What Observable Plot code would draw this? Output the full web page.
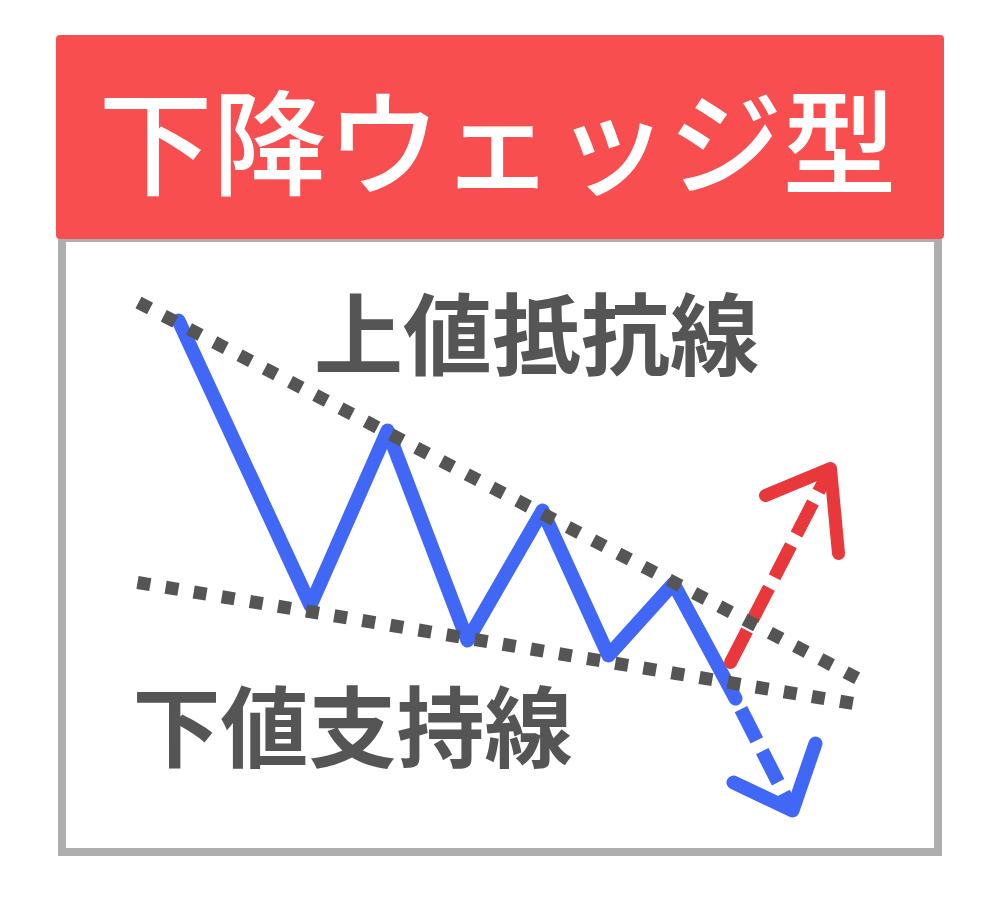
<!DOCTYPE html>
<html>
<head>
<meta charset="utf-8">
<script src="https://cdn.jsdelivr.net/npm/d3@7"></script>
<script src="https://cdn.jsdelivr.net/npm/@observablehq/plot@0.6"></script>
<style>
  html, body { margin: 0; padding: 0; background: #fff; }
  svg { display: block; }
</style>
</head>
<body>
<div id="chart"></div>
<script>
// ---- data (pixel-space coordinates of the pattern illustration) ----
const title = "下降ウェッジ型";
const upperLabel = "上値抵抗線";
const lowerLabel = "下値支持線";

// price path (solid)
const priceX = [178, 310, 387, 467, 542, 608, 673, 735];
const priceY = [320, 605, 430, 640, 510, 655, 583, 698];

// breakdown (blue dashed) and its arrow head
const downX = [735, 792];
const downY = [698, 810];
const downHeadX = [733, 792, 815];
const downHeadY = [782, 810, 743];

// breakout (red dashed) and its arrow head
const upX = [730, 830];
const upY = [662, 468];
const upHeadX = [765, 830, 838];
const upHeadY = [495, 468, 553];

// resistance / support trend lines
const resistX = [138, 857];
const resistY = [302, 678];
const supportX = [137, 853];
const supportY = [582, 703];

// frame
const headerBox = {x1: 56, x2: 944, y1: 35, y2: 239};
const frameBox = {x1: 62, x2: 938, y1: 238, y2: 852};

const pts = (xs, ys) => xs.map((x, i) => ({x, y: ys[i]}));

const blue = "#4167F6";
const red = "#E8383B";
const gray = "#555555";
const font = "'Noto Sans CJK JP', 'Noto Sans', sans-serif";

const chart = Plot.plot({
  width: 1000,
  height: 910,
  margin: 0,
  x: {domain: [0, 1000], range: [0, 1000], axis: null},
  y: {domain: [0, 910], range: [0, 910], axis: null},
  style: {background: "#fff", fontFamily: font},
  marks: [
    Plot.rect([frameBox], {x1: "x1", x2: "x2", y1: "y1", y2: "y2", fill: "#fff", stroke: "#AEAEAE", strokeWidth: 8}),
    Plot.rect([headerBox], {x1: "x1", x2: "x2", y1: "y1", y2: "y2", fill: "#F94E4F", rx: 4}),
    Plot.text([title], {x: () => 497, y: () => 149, text: d => d, fill: "#fff", fontSize: 114, fontWeight: 500, textAnchor: "middle", lineAnchor: "middle", fontFamily: font}),
    Plot.text([upperLabel], {x: () => 536, y: () => 339, text: d => d, fill: gray, fontSize: 89, fontWeight: 700, textAnchor: "middle", lineAnchor: "middle", fontFamily: font}),
    Plot.text([lowerLabel], {x: () => 352, y: () => 731, text: d => d, fill: gray, fontSize: 88, fontWeight: 700, textAnchor: "middle", lineAnchor: "middle", fontFamily: font}),
    Plot.line(pts(priceX, priceY), {x: "x", y: "y", stroke: blue, strokeWidth: 14, strokeLinecap: "round", strokeLinejoin: "round"}),
    Plot.line(pts(downX, downY), {x: "x", y: "y", stroke: blue, strokeWidth: 14, strokeLinecap: "butt", strokeDasharray: "35 12", strokeDashoffset: 35}),
    Plot.line(pts(downHeadX, downHeadY), {x: "x", y: "y", stroke: blue, strokeWidth: 14, strokeLinecap: "round", strokeLinejoin: "round"}),
    Plot.line(pts(upX, upY), {x: "x", y: "y", stroke: red, strokeWidth: 13, strokeLinecap: "butt", strokeDasharray: "36 12"}),
    Plot.dot([{x: upX[0], y: upY[0]}], {x: "x", y: "y", r: 6.5, fill: red, stroke: null}),
    Plot.line(pts(upHeadX, upHeadY), {x: "x", y: "y", stroke: red, strokeWidth: 13, strokeLinecap: "round", strokeLinejoin: "round"}),
    Plot.line(pts(resistX, resistY), {x: "x", y: "y", stroke: gray, strokeWidth: 13, strokeLinecap: "butt", strokeDasharray: "13 15.5"}),
    Plot.line(pts(supportX, supportY), {x: "x", y: "y", stroke: gray, strokeWidth: 13, strokeLinecap: "butt", strokeDasharray: "13 15.5"})
  ]
});
document.getElementById("chart").append(chart);
</script>
</body>
</html>
